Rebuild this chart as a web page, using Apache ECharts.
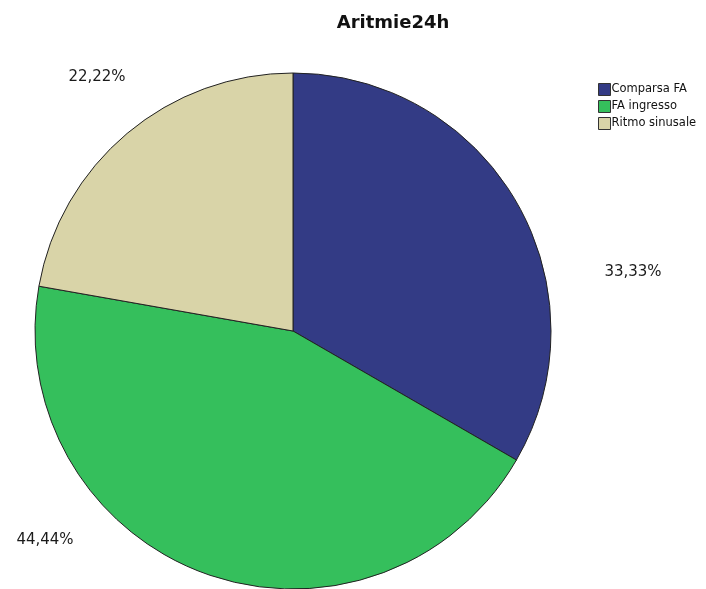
<!DOCTYPE html>
<html>
<head>
<meta charset="utf-8">
<script src="https://cdn.jsdelivr.net/npm/echarts@6/dist/echarts.min.js"></script>
<style>
  html, body { margin: 0; padding: 0; background: #fff; }
  #chart { width: 706px; height: 589px; }
</style>
</head>
<body>
<div id="chart"></div>
<script>
// Category names and their shares (percent)
const categories = ['Comparsa FA', 'FA ingresso', 'Ritmo sinusale'];
const shares = [33.33, 44.44, 22.22];
const sliceColors = ['#333b85', '#35bf5c', '#d9d4a8'];

// Where each percentage label sits (centre of the text)
const labelAnchors = [[633, 272], [45, 540], [97, 77]];

const chart = echarts.init(document.getElementById('chart'), null, { renderer: 'canvas' });

const fmt = v => v.toFixed(2).replace('.', ',') + '%';

chart.setOption({
  animation: false,
  backgroundColor: '#ffffff',
  title: {
    text: 'Aritmie24h',
    left: 388,
    top: 9,
    textAlign: 'center',
    textStyle: {
      fontFamily: 'DejaVu Sans',
      fontWeight: 'bold',
      fontSize: 18,
      color: '#111'
    }
  },
  legend: {
    orient: 'vertical',
    left: 593,
    top: 78,
    itemWidth: 12,
    itemHeight: 12,
    itemGap: 4,
    icon: 'rect',
    selectedMode: false,
    textStyle: {
      fontFamily: 'DejaVu Sans',
      fontSize: 11.5,
      color: '#111',
      padding: [0, 0, 0, -4]
    },
    itemStyle: { borderColor: '#333', borderWidth: 1 },
    data: categories
  },
  series: [{
    type: 'pie',
    center: [293, 331],
    radius: 258,
    startAngle: 90,
    clockwise: true,
    avoidLabelOverlap: false,
    itemStyle: { borderColor: '#222', borderWidth: 1 },
    emphasis: { disabled: true },
    label: {
      show: true,
      position: 'outside',
      formatter: p => fmt(p.value),
      fontFamily: 'DejaVu Sans',
      fontSize: 15,
      color: '#1a1a1a'
    },
    labelLine: { show: false },
    labelLayout: p => ({
      x: labelAnchors[p.dataIndex][0],
      y: labelAnchors[p.dataIndex][1],
      align: 'center',
      verticalAlign: 'middle'
    }),
    data: categories.map((name, i) => ({
      name: name,
      value: shares[i],
      itemStyle: { color: sliceColors[i] }
    }))
  }]
});
</script>
</body>
</html>
